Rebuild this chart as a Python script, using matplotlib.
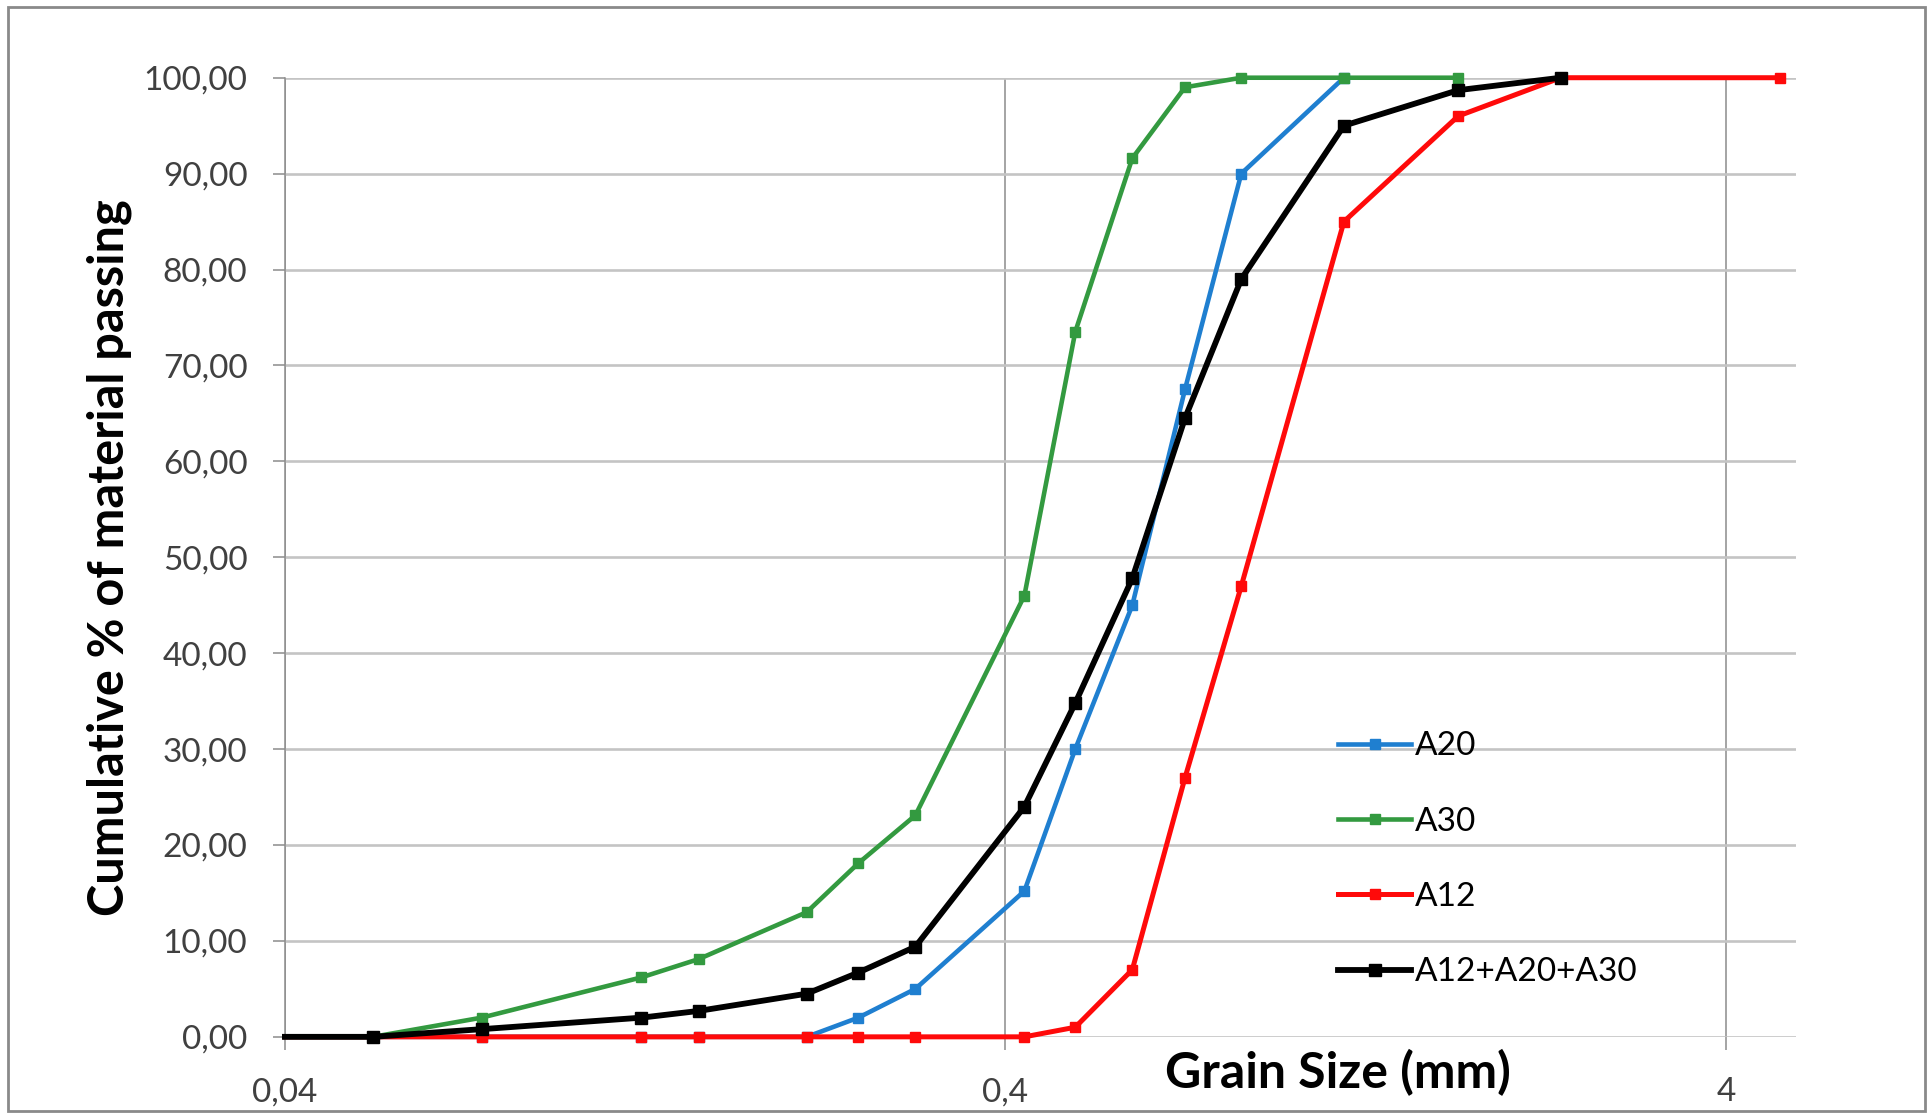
import matplotlib
matplotlib.use("Agg")
import matplotlib.pyplot as plt
from matplotlib.lines import Line2D
from matplotlib.patches import Rectangle
from matplotlib.ticker import FixedLocator, FuncFormatter, NullLocator

plt.rcParams['font.family'] = ['Lato', 'DejaVu Sans']

# sieve sizes (mm) and cumulative % passing
sizes = [0.04, 0.053, 0.075, 0.125, 0.15, 0.212, 0.25, 0.30, 0.425,
         0.50, 0.60, 0.71, 0.85, 1.18, 1.70, 2.36, 4.75]

a20 = [0, 0, 0, 0, 0, 0, 2, 5, 15.2, 30, 45, 67.5, 90, 100]
a30 = [0, 0, 2, 6.2, 8.1, 13, 18.1, 23.1, 46, 73.5, 91.6, 99, 100, 100, 100]
a12 = [0, 0, 0, 0, 0, 0, 0, 0, 0, 1, 7, 27, 47, 85, 96, 100, 100]
mix = [0, 0, 0.8, 2, 2.7, 4.5, 6.7, 9.4, 24, 34.8, 47.8, 64.5, 79, 95, 98.7, 100]

series = [
    ("A20", a20, "#1f7fd0", 3.3),
    ("A30", a30, "#339a40", 3.3),
    ("A12", a12, "#ff0a0a", 3.6),
    ("A12+A20+A30", mix, "#000000", 4.2),
]

fig = plt.figure(figsize=(19.33, 11.15), dpi=100)
ax = fig.add_axes([0.1474, 0.0701, 0.9290 - 0.1474, 0.9303 - 0.0701])

handles = []
for name, vals, col, lw in series:
    ms = 7.5 if col != "#000000" else 8.5
    # first size sits on the axis edge, no marker drawn there
    ax.plot(sizes[:len(vals)], vals, color=col, lw=lw, marker='s', ms=ms,
            markevery=list(range(1, len(vals))), clip_on=False, zorder=3)
    handles.append(Line2D([], [], color=col, lw=lw, marker='s', ms=ms, label=name))

ax.set_xscale('log')
ax.set_xlim(0.04, 5)
ax.set_ylim(0, 100)

ax.xaxis.set_major_locator(FixedLocator([0.04, 0.4, 4]))
ax.xaxis.set_minor_locator(NullLocator())
ax.xaxis.set_major_formatter(FuncFormatter(lambda v, p: f"{v:g}".replace('.', ',')))
ax.yaxis.set_major_locator(FixedLocator(range(0, 101, 10)))
ax.yaxis.set_major_formatter(FuncFormatter(lambda v, p: f"{v:.2f}".replace('.', ',')))

ax.grid(axis='y', color='#c4c4c4', lw=1.9, zorder=0)
ax.grid(axis='x', color='#8c8c8c', lw=1.1, zorder=0)
for s in ['top', 'right', 'bottom']:
    ax.spines[s].set_visible(False)
ax.spines['left'].set_color('#8c8c8c')
ax.spines['left'].set_linewidth(1.1)

ax.tick_params(axis='both', direction='out', length=9, width=1.1, color='#8c8c8c',
               labelcolor='#404040', labelsize=24)
ax.tick_params(axis='y', pad=18)
ax.tick_params(axis='x', pad=20)

ax.set_ylabel("Cumulative % of material passing", fontsize=35, fontweight='bold',
              color='black')
ax.yaxis.set_label_coords(-0.101, 0.5)
fig.text(0.692, 0.038, "Grain Size (mm)", fontsize=36, fontweight='bold',
         ha='center', va='center')

ax.legend(handles=handles, loc='upper left', bbox_to_anchor=(0.686, 0.336),
          frameon=False, fontsize=24, handlelength=2.2, handletextpad=0.1,
          labelspacing=1.36, borderpad=0, numpoints=1)

# chart frame
fig.patches.append(Rectangle((0.004, 0.004), 0.992, 0.99, transform=fig.transFigure,
                             fill=False, edgecolor='#8a8a8a', lw=2))

fig.savefig("out.png", dpi=100)
